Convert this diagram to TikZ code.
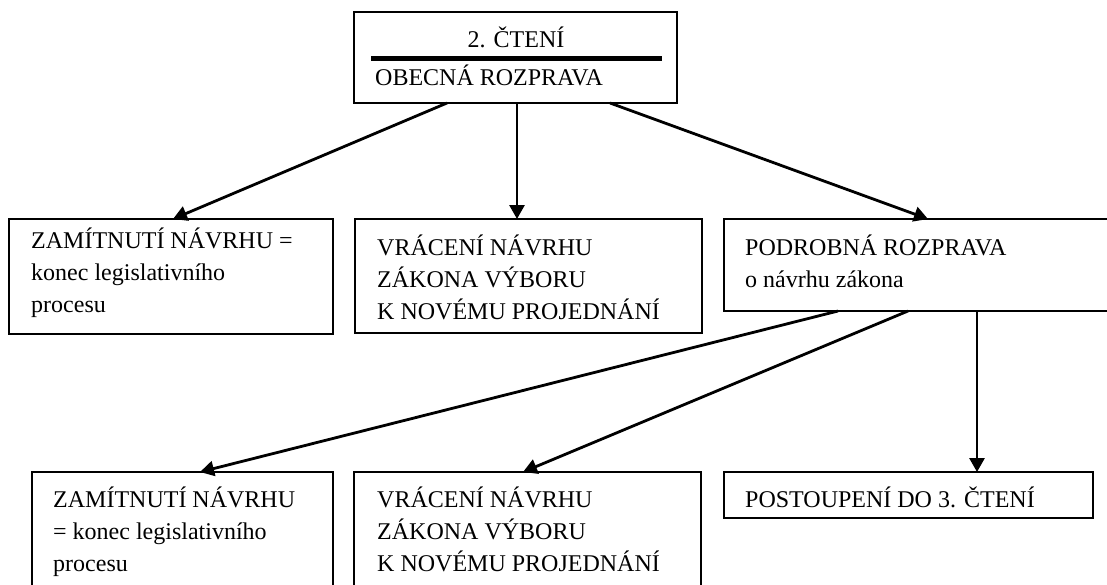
\documentclass[tikz,border=0pt]{standalone}
\usepackage{fontspec}
\setmainfont{Liberation Serif}
\usetikzlibrary{arrows.meta}
\begin{document}
\begin{tikzpicture}[x=1pt,y=-1pt,
  box/.style={draw, line width=2pt, outer sep=0pt, inner sep=0pt, anchor=north west},
  % multi-line labels are placed by the baseline of their last line
  txt/.style={anchor=base west, inner sep=0pt, align=left, font=\fontsize{24}{32}\selectfont},
  link/.style={line width=2.8pt, -{Triangle[length=14pt,width=15pt]}}]
\useasboundingbox (0,0) rectangle (1107,584);
\clip (0,0) rectangle (1107,584);

% boxes
\node[box, minimum width=323pt, minimum height=91pt]  (top) at (354,12) {};
\node[box, minimum width=324pt, minimum height=115pt] (a1) at (9,219) {};
\node[box, minimum width=347pt, minimum height=114pt] (a2) at (355,219) {};
\node[box, minimum width=400pt, minimum height=92pt]  (a3) at (724,219) {};
\node[box, minimum width=301pt, minimum height=140pt] (b1) at (32,472) {};
\node[box, minimum width=347pt, minimum height=140pt] (b2) at (354,472) {};
\node[box, minimum width=369pt, minimum height=46pt]  (b3) at (724,472) {};

% heading of the top box with its rule
\node[txt, anchor=base] (t0) at (516,47) {2. ČTENÍ};
\draw[line width=5pt] (371,58) -- (662,58);
\node[txt] (t0b) at (375,85) {OBECNÁ ROZPRAVA};

% box texts
\node[txt] (ta1) at (31,312) {ZAMÍTNUTÍ NÁVRHU =\\konec legislativního\\procesu};
\node[txt] (ta2) at (377,319) {VRÁCENÍ NÁVRHU\\ZÁKONA VÝBORU\\K NOVÉMU PROJEDNÁNÍ};
\node[txt] (ta3) at (745,287) {PODROBNÁ ROZPRAVA\\o návrhu zákona};
\node[txt] (tb1) at (53,571) {ZAMÍTNUTÍ NÁVRHU\\= konec legislativního\\procesu};
\node[txt] (tb2) at (377,571) {VRÁCENÍ NÁVRHU\\ZÁKONA VÝBORU\\K NOVÉMU PROJEDNÁNÍ};
\node[txt] (tb3) at (745,507) {POSTOUPENÍ DO 3. ČTENÍ};

% connectors
\draw[link] ([xshift=93pt]top.south west)  -- ([xshift=164pt]a1.north west);
\draw[link] ([xshift=163pt]top.south west) -- ([xshift=162pt]a2.north west);
\draw[link] ([xshift=256pt]top.south west) -- ([xshift=204pt]a3.north west);
\draw[link] ([xshift=114pt]a3.south west)  -- ([xshift=168pt]b1.north west);
\draw[link] ([xshift=184pt]a3.south west)  -- ([xshift=169pt]b2.north west);
\draw[link] ([xshift=253pt]a3.south west)  -- ([xshift=253pt]b3.north west);
\end{tikzpicture}
\end{document}
